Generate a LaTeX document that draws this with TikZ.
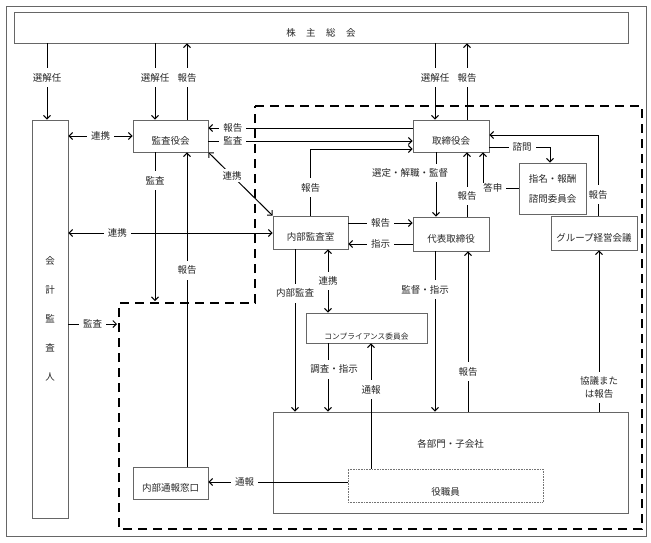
\documentclass[tikz,border=0pt]{standalone}
\usepackage{fontspec}
\setmainfont{Noto Sans CJK JP}
\usepackage{tikz}
\usetikzlibrary{arrows.meta,positioning}

\begin{document}
\begin{tikzpicture}[
  x=1pt, y=-1pt,
  every node/.style={font=\fontsize{9.5}{11}\selectfont, text=black!85},
  box/.style={draw=black!60, line width=0.8pt, inner sep=0pt},
  txt/.style={text height=#1, text depth=1pt},
  lbl/.style={fill=white, inner xsep=4pt, inner ysep=1pt},
  vlbl/.style={fill=white, inner xsep=1pt, inner ysep=5pt},
  arrow/.style={-{Straight Barb[length=3.5pt,width=7pt]}, line width=1pt},
  twoway/.style={{Straight Barb[length=3.5pt,width=7pt]}-{Straight Barb[length=3.5pt,width=7pt]}, line width=1pt}
]
  \useasboundingbox (0,0) rectangle (651,542);
  \draw[black!60, line width=0.8pt] (6,6) rectangle (646,536);

  % dashed area
  \draw[line width=2.2pt, dash pattern=on 9pt off 6pt] (255,106) -- (642,106) -- (642,529) -- (119,529) -- (119,303) -- (255,303) -- cycle;
  \coordinate (kansaend) at (155,301);
  \coordinate (kaikeiend) at (117,324);

  \node[box, txt=18pt, minimum width=614, minimum height=31] (kabu) at (321,27.5) {株\hspace{10.5pt}主\hspace{10.5pt}総\hspace{10.5pt}会};
  \node[box, align=center, font=\fontsize{9.5}{29}\selectfont, minimum width=36, minimum height=398] (kaikei) at (50,319) {会\\計\\監\\査\\人};
  \node[box, txt=17pt, minimum width=75, minimum height=32] (kansa) at (170.5,136) {監査役会};
  \node[box, txt=17pt, minimum width=76, minimum height=32] (tori) at (451,136) {取締役会};
  \node[box, txt=17pt, minimum width=75, minimum height=33] (naibu) at (310.5,232.5) {内部監査室};
  \node[box, txt=17pt, minimum width=76, minimum height=34] (daihyo) at (451,234) {代表取締役};
  \node[box, align=center, font=\fontsize{9.5}{20}\selectfont, minimum width=67, minimum height=51] (shimei) at (552.5,188.5) {指名・報酬\\諮問委員会};
  \node[box, txt=17pt, minimum width=86, minimum height=34] (group) at (594,233) {グループ経営会議};
  \node[box, txt=23pt, font=\fontsize{7.7}{9}\selectfont, minimum width=121, minimum height=30] (compl) at (366.5,328) {コンプライアンス委員会};
  \node[box, text height=8pt, text depth=39pt, minimum width=355, minimum height=101] (kakubu) at (450.5,462.5) {各部門・子会社};
  \node[box, txt=21pt, draw=black!55, line width=0.6pt, densely dotted, minimum width=195, minimum height=33] (yaku) at (445.5,485.5) {役職員};
  \node[box, txt=18pt, minimum width=75, minimum height=32] (madoguchi) at (170.5,483) {内部通報窓口};

  % top
  \draw[arrow] (kabu.south -| 47,0) -- (kaikei.north -| 47,0) node[vlbl,pos=.45] {選解任};
  \draw[arrow] (kabu.south -| 155,0) -- (kansa.north -| 155,0) node[vlbl,pos=.45] {選解任};
  \draw[arrow] (kansa.north -| 187,0) -- (kabu.south -| 187,0) node[vlbl,pos=.55] {報告};
  \draw[arrow] (kabu.south -| 435,0) -- (tori.north -| 435,0) node[vlbl,pos=.45] {選解任};
  \draw[arrow] (tori.north -| 467,0) -- (kabu.south -| 467,0) node[vlbl,pos=.55] {報告};

  % kansa, kaikei
  \draw[twoway] (kaikei.east |- 0,136) -- (kansa.west) node[lbl,midway] {連携};
  \draw[arrow] (tori.west |- 0,128) -- (kansa.east |- 0,128) node[lbl,pos=.88] {報告};
  \draw[arrow] (kansa.east |- 0,141) -- (tori.west |- 0,141) node[lbl,pos=.12] {監査};
  \draw[arrow] (naibu.north) |- (tori.west |- 0,149) node[vlbl,pos=.21] {報告};
  \draw[twoway] (kansa.south east) -- (naibu.north west) node[fill=white,inner sep=2pt,pos=.37] {連携};
  \draw[arrow] (kansa.south -| kansaend) -- (kansaend) node[vlbl,pos=.19] {監査};
  \draw[arrow] (madoguchi.north -| 187,0) -- (kansa.south -| 187,0) node[vlbl,pos=.625] {報告};
  \draw[twoway] (kaikei.east |- 0,233) -- (naibu.west |- 0,233) node[lbl,pos=.24] {連携};
  \draw[arrow] (kaikei.east |- kaikeiend) -- (kaikeiend) node[lbl,midway] {監査};

  % tori, daihyo
  \draw[arrow] (naibu.east |- 0,223) -- (daihyo.west |- 0,223) node[lbl,midway] {報告};
  \draw[arrow] (daihyo.west |- 0,244) -- (naibu.east |- 0,244) node[lbl,midway] {指示};
  \draw[arrow] (tori.south -| 436,0) -- (daihyo.north -| 436,0) node[vlbl,pos=.32,xshift=-26] {選定・解職・監督};
  \draw[arrow] (daihyo.north -| 467,0) -- (tori.south -| 467,0) node[vlbl,pos=.32] {報告};
  \draw[arrow] (tori.east |- 0,147) -| (shimei.north -| 550,0) node[lbl,pos=.27] {諮問};
  \draw[arrow] (shimei.west |- 0,188) -| (tori.south -| 483,0) node[lbl,pos=.36] {答申};
  \draw[arrow] (group.north -| 598,0) |- (tori.east |- 0,135) node[vlbl,pos=.13] {報告};

  % bottom
  \draw[arrow] (naibu.south -| 295,0) -- (kakubu.north -| 295,0) node[vlbl,pos=.27] {内部監査};
  \draw[twoway] (naibu.south -| 328,0) -- (compl.north -| 328,0) node[vlbl,midway] {連携};
  \draw[arrow] (compl.south -| 328,0) -- (kakubu.north -| 328,0) node[vlbl,pos=.38,xshift=6] {調査・指示};
  \draw[arrow] (yaku.north -| 371,0) -- (compl.south -| 371,0) node[vlbl,pos=.63] {通報};
  \draw[arrow] (daihyo.south -| 435,0) -- (kakubu.north -| 435,0) node[vlbl,pos=.24,xshift=-10] {監督・指示};
  \draw[arrow] (kakubu.north -| 468,0) -- (daihyo.south -| 468,0) node[vlbl,pos=.25] {報告};
  \draw[arrow] (kakubu.north -| 599,0) -- (group.south -| 599,0) node[vlbl,pos=.15,align=center,font=\fontsize{9.5}{13}\selectfont] {協議また\\は報告};
  \draw[arrow] (yaku.west |- 0,482) -- (madoguchi.east |- 0,482) node[lbl,pos=.74] {通報};
\end{tikzpicture}
\end{document}
